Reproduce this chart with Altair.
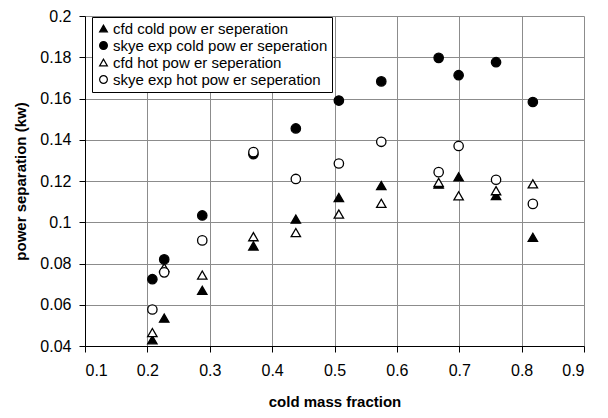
import altair as alt
import pandas as pd

cold_mass_fraction = [0.208, 0.227, 0.288, 0.370, 0.438, 0.507, 0.575, 0.667, 0.699, 0.759, 0.818]
cfd_cold = [0.0430, 0.0535, 0.0670, 0.0885, 0.1015, 0.1120, 0.1178, 0.1185, 0.1220, 0.1130, 0.0927]
skye_cold = [0.0724, 0.0820, 0.1033, 0.1330, 0.1455, 0.1590, 0.1683, 0.1797, 0.1713, 0.1776, 0.1583]
cfd_hot = [0.0465, 0.0780, 0.0744, 0.0930, 0.0950, 0.1040, 0.1092, 0.1193, 0.1128, 0.1153, 0.1186]
skye_hot = [0.0577, 0.0757, 0.0912, 0.1340, 0.1210, 0.1285, 0.1390, 0.1243, 0.1370, 0.1206, 0.1089]

series_names = [
    "cfd cold pow er seperation",
    "skye exp cold pow er seperation",
    "cfd hot pow er seperation",
    "skye exp hot pow er seperation",
]
series_values = [cfd_cold, skye_cold, cfd_hot, skye_hot]
series_shapes = ["triangle-up", "circle", "triangle-up", "circle"]
series_fills = ["black", "black", "white", "white"]
series_strokes = ["black", "black", "black", "black"]

x_ticks = [0.1, 0.2, 0.3, 0.4, 0.5, 0.6, 0.7, 0.8, 0.9]
y_ticks = [0.04, 0.06, 0.08, 0.1, 0.12, 0.14, 0.16, 0.18, 0.2]

rows = []
for name, vals in zip(series_names, series_values):
    for xv, yv in zip(cold_mass_fraction, vals):
        rows.append({"series": name, "x": xv, "y": yv})
df = pd.DataFrame(rows)

FONT = "Liberation Sans"

legend = alt.Legend(
    title=None,
    orient="none",
    legendX=7,
    legendY=1,
    fillColor="white",
    strokeColor="black",
    padding=4,
    labelFontSize=15,
    labelFont=FONT,
    labelColor="black",
    labelOffset=2,
    labelLimit=400,
    rowPadding=1,
    symbolSize=60,
    symbolStrokeWidth=1.2,
    cornerRadius=0,
)

chart = alt.Chart(df).mark_point(
    filled=True, strokeWidth=1.3, size=88, opacity=1
).encode(
    x=alt.X(
        "x:Q",
        scale=alt.Scale(domain=[0.1, 0.9], nice=False, zero=False),
        axis=alt.Axis(
            values=x_ticks,
            format="~g",
            title="cold mass fraction",
            titlePadding=16,
            labelPadding=10,
        ),
    ),
    y=alt.Y(
        "y:Q",
        scale=alt.Scale(domain=[0.04, 0.2], nice=False, zero=False),
        axis=alt.Axis(
            values=y_ticks,
            format="~g",
            title="power separation (kw)",
            titlePadding=11,
            labelPadding=8,
        ),
    ),
    shape=alt.Shape(
        "series:N",
        scale=alt.Scale(domain=series_names, range=series_shapes),
        legend=legend,
    ),
    fill=alt.Fill(
        "series:N",
        scale=alt.Scale(domain=series_names, range=series_fills),
        legend=legend,
    ),
    stroke=alt.Stroke(
        "series:N",
        scale=alt.Scale(domain=series_names, range=series_strokes),
        legend=legend,
    ),
    order=alt.Order("idx:Q"),
).transform_window(
    idx="row_number()"
).properties(
    width=499,
    height=330,
    background="white",
    autosize=alt.AutoSizeParams(type="none"),
    padding={"left": 77, "top": 8, "right": 16, "bottom": 68},
).configure_view(
    stroke=None
).configure_axis(
    grid=True,
    gridColor="#8c8c8c",
    gridWidth=1,
    domainColor="black",
    domainWidth=1,
    tickColor="black",
    tickSize=6,
    labelFont=FONT,
    labelFontSize=16,
    labelColor="black",
    titleFont=FONT,
    titleFontSize=15,
    titleFontWeight="bold",
    titleColor="black",
)

chart.save("out.html", embed_options={"renderer": "svg", "actions": False})
